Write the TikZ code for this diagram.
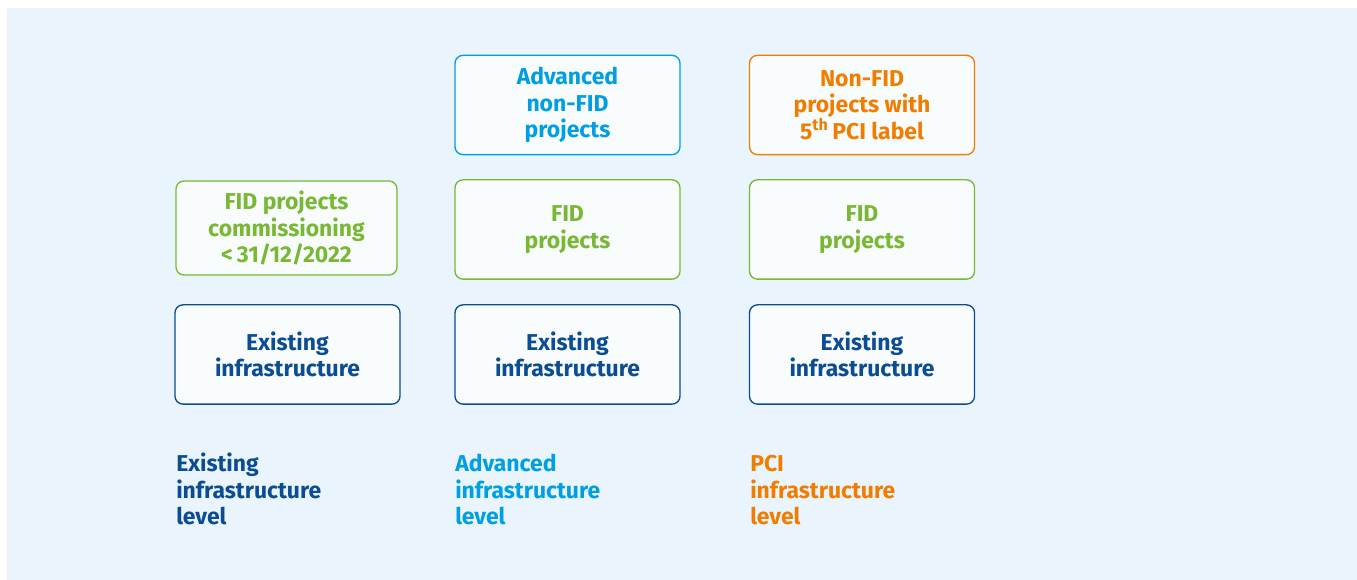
\documentclass[tikz,border=0pt]{standalone}
\usepackage{fontspec}
\setmainfont{Fira Sans}

\begin{document}
\begin{tikzpicture}[x=0.75pt,y=-0.75pt,
    box/.style={draw, rounded corners=6pt, line width=1pt, fill=box_fill,
        align=center, inner sep=0pt, minimum width=168.75pt, minimum height=74.5pt,
        font=\bfseries\fontsize{17.2}{19.9}\selectfont},
    level/.style={anchor=base west, align=left, inner sep=0pt,
        font=\bfseries\fontsize{17.2}{19.9}\selectfont}]
    \definecolor{bg_blue}{HTML}{EAF4FD}
    \definecolor{box_fill}{HTML}{F8FCFD}
    \definecolor{dark_blue}{HTML}{0B4C92}
    \definecolor{light_blue}{HTML}{009FE3}
    \definecolor{fid_green}{HTML}{78B833}
    \definecolor{pci_orange}{HTML}{F07D00}
    % \draw[help lines] (0,0) grid (1357,580);
    \useasboundingbox (0,0) rectangle (1357,580);
    \path[fill=bg_blue] (7,8) rectangle (1357,580);

    % existing infrastructure level
    \node[box, draw=dark_blue, text=dark_blue] (exist1) at (287.5,354.5) {Existing\\infrastructure};
    \node[box, draw=fid_green, text=fid_green, minimum width=165.75pt, minimum height=70.5pt] (fid1) at (286.5,228) {FID projects\\commissioning\\<\,31/12/2022};

    % advanced infrastructure level
    \node[box, draw=dark_blue, text=dark_blue] (exist2) at (567.5,354.5) {Existing\\infrastructure};
    \node[box, draw=fid_green, text=fid_green] (fid2) at (567.5,229.5) {FID\\projects};
    \node[box, draw=light_blue, text=light_blue] (adv2) at (567.5,105) {Advanced\\non-FID\\projects};

    % PCI infrastructure level
    \node[box, draw=dark_blue, text=dark_blue] (exist3) at (862,354.5) {Existing\\infrastructure};
    \node[box, draw=fid_green, text=fid_green] (fid3) at (862,229.5) {FID\\projects};
    \node[box, draw=pci_orange, text=pci_orange] (nonfid3) at (862,105) {Non-FID\\projects with\\5\textsuperscript{th}\,PCI label};

    \node[level, text=dark_blue] (lvl1) at (176,525) {Existing\\infrastructure\\level};
    \node[level, text=light_blue] (lvl2) at (455,525) {Advanced\\infrastructure\\level};
    \node[level, text=pci_orange] (lvl3) at (750,525) {PCI\\infrastructure\\level};
\end{tikzpicture}
\end{document}
